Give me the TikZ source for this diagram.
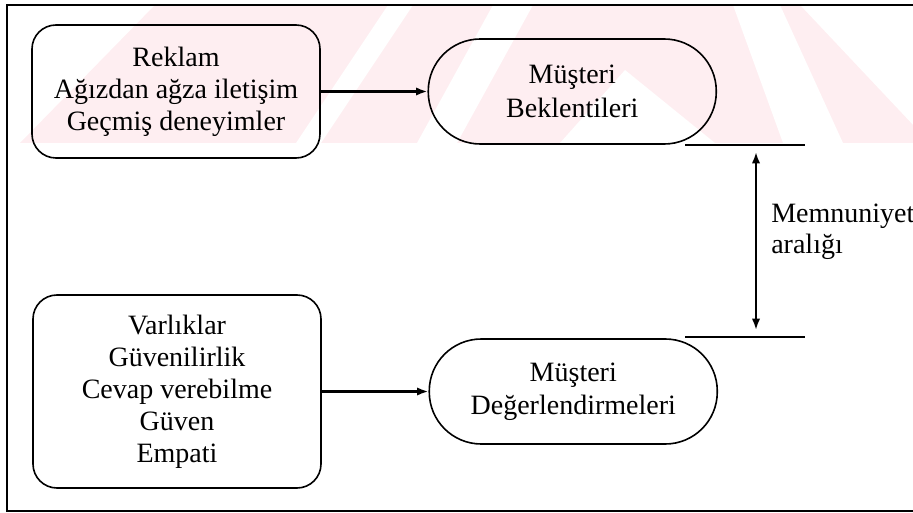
\documentclass[tikz,border=0pt]{standalone}
\usepackage{fontspec}
\setmainfont{Liberation Serif}
\usetikzlibrary{arrows.meta, positioning}
\definecolor{wmpink}{RGB}{254,238,241}
\tikzset{
  source/.style={
    rectangle,
    rounded corners=18pt,
    draw,
    line width=1.2pt,
    align=center,
    minimum width=216pt,
    minimum height=99.75pt,
    inner sep=0pt,
    font=\fontsize{21}{24}\selectfont
  },
  outcome/.style={
    rectangle,
    rounded corners=39pt,
    draw,
    line width=1.2pt,
    align=center,
    minimum width=216pt,
    minimum height=78.75pt,
    inner sep=0pt,
    font=\fontsize{21}{25}\selectfont
  },
  arrow/.style={-{Latex[length=3mm, width=2.2mm]}, line width=1.8pt},
  gaparrow/.style={{Latex[length=3mm, width=2.2mm]}-{Latex[length=3mm, width=2.2mm]}, line width=1.5pt},
  gapline/.style={line width=1.2pt},
  frame/.style={line width=1.5pt}
}
\begin{document}
\begin{tikzpicture}[x=0.75pt, y=-0.75pt]
  \useasboundingbox (0,0) rectangle (913,513);

  % watermark band
  \begin{scope}
    \clip (7,5) rectangle (913,143);
    \fill[wmpink] (155,5) -- (800,5) -- (930,143) -- (20,143) -- cycle;
    \fill[white] (388,5) -- (413,5) -- (321,143) -- (296,143) -- cycle;
    \fill[white] (493,5) -- (533,5) -- (457,143) -- (417,143) -- cycle;
    \fill[white] (625,70) -- (715,143) -- (560,143) -- cycle;
    \fill[white] (733,5) -- (780,5) -- (843,143) -- (783,143) -- cycle;
  \end{scope}

  \draw[frame] (913,5) -- (7,5) -- (7,511) -- (913,511);

  \node[source] (ads) at (176,91.5)
        {Reklam\\Ağızdan ağza iletişim\\Geçmiş deneyimler};
  \node[outcome, right=80pt of ads] (expect)
        {Müşteri\\Beklentileri};

  \node[source, minimum height=144.75pt] (quality) at (177,391.5)
        {Varlıklar\\Güvenilirlik\\Cevap verebilme\\Güven\\Empati};
  \node[outcome, right=80pt of quality] (rating)
        {Müşteri\\Değerlendirmeleri};

  \draw[arrow] (ads) -- (expect);
  \draw[arrow] (quality) -- (rating);

  % satisfaction gap
  \coordinate (gaptop) at (685,145);
  \coordinate (gapbot) at (685,337);
  \draw[gapline] (gaptop) -- ++(120,0);
  \draw[gapline] (gapbot) -- ++(120,0);
  \coordinate (gapA) at (756,152);
  \coordinate (gapB) at (756,330);
  \draw[gaparrow] (gapA) -- (gapB);
  \node[anchor=west, align=left, inner sep=0pt,
        font=\fontsize{21}{23}\selectfont] (gaplabel) at (771,232)
        {Memnuniyet\\aralığı};
\end{tikzpicture}
\end{document}
